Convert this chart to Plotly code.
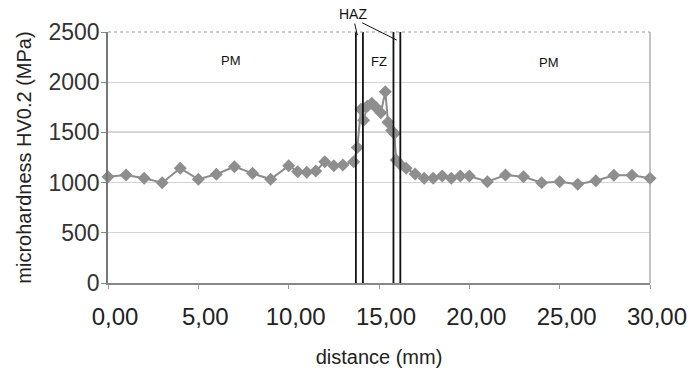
import plotly.graph_objects as go

# Data
distance_mm = [0, 1, 2, 3, 4, 5, 6, 7, 8, 9, 10, 10.5, 11, 11.5, 12, 12.5, 13.0,
               13.6, 13.8, 14.0, 14.15, 14.35, 14.6, 14.85, 15.1, 15.35, 15.5, 15.7,
               15.85, 15.95, 16.15, 16.5, 17.0, 17.5, 18.0, 18.5, 19.0, 19.5, 20.0,
               21, 22, 23, 24, 25, 26, 27, 28, 29, 30]
hardness_mpa = [1059, 1076, 1043, 999, 1142, 1033, 1083, 1159, 1092, 1033, 1168, 1109,
                1102, 1116, 1208, 1168, 1175,
                1208, 1350, 1730, 1620, 1760, 1790, 1745, 1695, 1905, 1600, 1520,
                1490, 1225, 1185, 1142, 1086, 1043, 1043, 1066, 1043, 1066, 1066,
                1009, 1076, 1059, 999, 1009, 983, 1019, 1073, 1073, 1043]

zone_boundaries = [13.72, 14.11, 15.8, 16.18]

x_tick_vals = [0, 5, 10, 15, 20, 25, 30]
x_tick_text = ["0,00", "5,00", "10,00", "15,00", "20,00", "25,00", "30,00"]
y_tick_vals = [0, 500, 1000, 1500, 2000, 2500]

zone_labels = ["PM", "FZ", "PM"]
zone_label_x = [6.8, 15.0, 24.4]
zone_label_y = [2220, 2210, 2200]

FONT = "Liberation Sans, Arial, sans-serif"

fig = go.Figure()

fig.add_trace(go.Scatter(
    x=distance_mm, y=hardness_mpa, mode="lines+markers",
    line=dict(color="#8c8c8c", width=2),
    marker=dict(symbol="diamond", size=10, color="#8e8e8e"),
    showlegend=False, cliponaxis=False,
))

shapes = []
# darker 1500 line
shapes.append(dict(type="line", xref="paper", x0=0, x1=1, yref="y", y0=1500, y1=1500,
                   line=dict(color="#6e6e6e", width=1.2), layer="below"))
# zone boundary lines
for xb in zone_boundaries:
    shapes.append(dict(type="line", xref="x", x0=xb, x1=xb, yref="y", y0=0, y1=2500,
                       line=dict(color="#111111", width=1.8)))
# top dotted border and right border
shapes.append(dict(type="line", xref="paper", x0=0, x1=1, yref="paper", y0=1, y1=1,
                   line=dict(color="#9a9a9a", width=1.2, dash="dot")))
shapes.append(dict(type="line", xref="paper", x0=1, x1=1, yref="paper", y0=0, y1=1,
                   line=dict(color="#9a9a9a", width=1.2)))

annotations = []
for t, xx, yy in zip(zone_labels, zone_label_x, zone_label_y):
    annotations.append(dict(x=xx, y=yy, xref="x", yref="y", text=t, showarrow=False,
                            font=dict(family=FONT, size=13, color="#111")))
annotations.append(dict(x=13.56, y=1.112, xref="x", yref="paper", text="HAZ",
                        showarrow=False, font=dict(family=FONT, size=14, color="#111")))
annotations.append(dict(x=13.8, y=0.988, xref="x", yref="paper", text="",
                        showarrow=True, arrowhead=0, arrowwidth=1, arrowcolor="#111",
                        axref="pixel", ayref="pixel", ax=-3, ay=-13, standoff=0,
                        startstandoff=0))
annotations.append(dict(x=15.98, y=0.968, xref="x", yref="paper", text="",
                        showarrow=True, arrowhead=0, arrowwidth=1, arrowcolor="#111",
                        axref="pixel", ayref="pixel", ax=-36, ay=-18, standoff=0,
                        startstandoff=0))

fig.update_layout(
    width=694, height=368,
    margin=dict(l=108, r=44, t=32, b=85, autoexpand=False),
    paper_bgcolor="white", plot_bgcolor="white",
    font=dict(family=FONT, color="#222"),
    shapes=shapes, annotations=annotations,
    xaxis=dict(
        range=[0, 30], tickvals=x_tick_vals, ticktext=x_tick_text,
        tickfont=dict(size=24, color="#222"), ticks="outside", ticklen=4,
        tickcolor="#999", showline=True, linecolor="#888", linewidth=1.5,
        showgrid=False, zeroline=False, ticklabelshift=7, ticklabelstandoff=7,
        automargin=False,
        title=dict(text="distance (mm)", font=dict(size=20, color="#222"), standoff=22),
    ),
    yaxis=dict(
        range=[0, 2500], tickvals=y_tick_vals,
        tickfont=dict(size=23, color="#333"), ticks="outside", ticklen=5,
        tickcolor="#888", showline=True, linecolor="#777", linewidth=1.5,
        showgrid=True, gridcolor="#d4d4d4", gridwidth=1.2, zeroline=False,
        automargin=False, ticklabelstandoff=-3,
        title=dict(text="microhardness HV0.2 (MPa)", font=dict(size=20, color="#222"),
                   standoff=11),
    ),
)

fig.write_html("out.html",
               config={"displayModeBar": False},
               post_script="document.body.style.margin='0';document.body.style.overflow='hidden';")
